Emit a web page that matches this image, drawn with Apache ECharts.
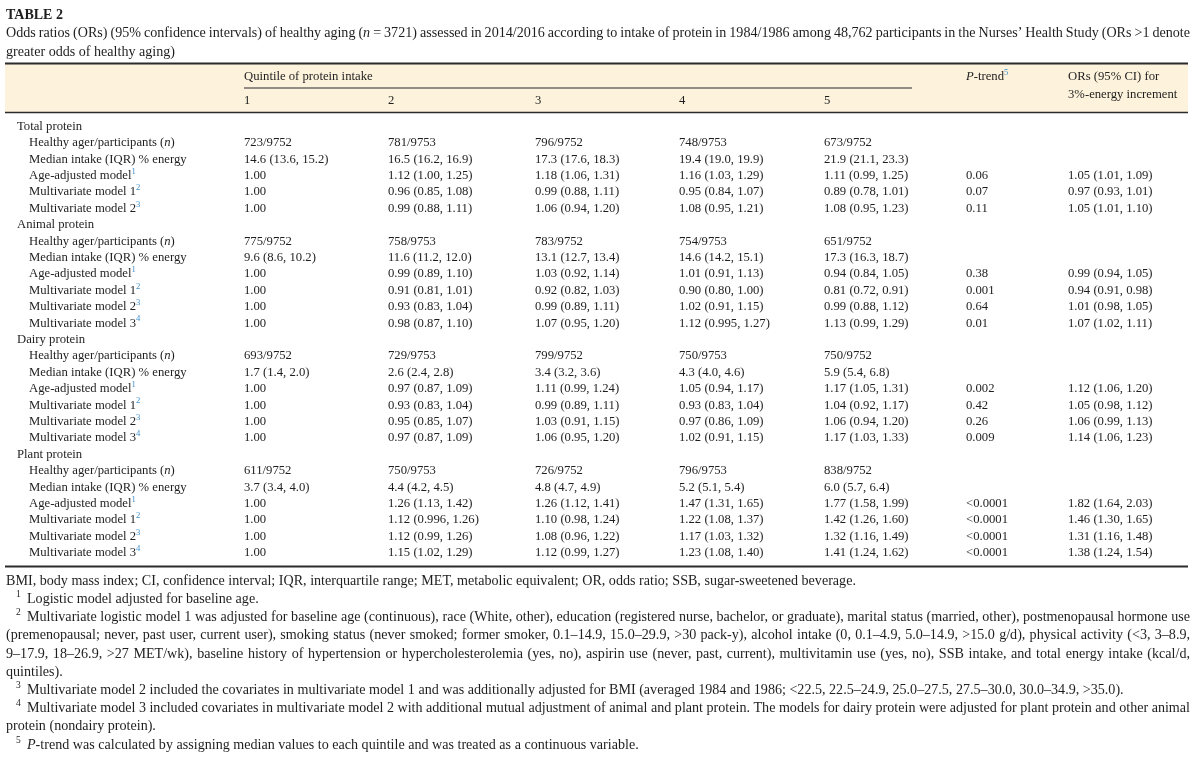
<!DOCTYPE html>
<html><head><meta charset="utf-8">
<script src="https://cdn.jsdelivr.net/npm/echarts@6/dist/echarts.min.js"></script>
<style>html,body{margin:0;padding:0;background:#fff}#c{width:1200px;height:762px}</style>
</head><body><div id="c"></div>
<script>
// ---------- data ----------
const title = 'TABLE 2';
const captionLines = [
  'Odds ratios (ORs) (95% confidence intervals) of healthy aging (_n_ = 3721) assessed in 2014/2016 according to intake of protein in 1984/1986 among 48,762 participants in the Nurses’ Health Study (ORs >1 denote',
  'greater odds of healthy aging)'
];
const groups = ['Total protein', 'Animal protein', 'Dairy protein', 'Plant protein'];
const rowLabels = ['Healthy ager/participants (_n_)', 'Median intake (IQR) % energy', 'Age-adjusted model^1^',
  'Multivariate model 1^2^', 'Multivariate model 2^3^', 'Multivariate model 3^4^'];
const quintileHeader = 'Quintile of protein intake';
const quintiles = ['1', '2', '3', '4', '5'];
const trendHeader = '_P_-trend^5^';
const incrementHeader = ['ORs (95% CI) for', '3%-energy increment'];

const totalProtein = [
  ['723/9752', '781/9753', '796/9752', '748/9753', '673/9752', '', ''],
  ['14.6 (13.6, 15.2)', '16.5 (16.2, 16.9)', '17.3 (17.6, 18.3)', '19.4 (19.0, 19.9)', '21.9 (21.1, 23.3)', '', ''],
  ['1.00', '1.12 (1.00, 1.25)', '1.18 (1.06, 1.31)', '1.16 (1.03, 1.29)', '1.11 (0.99, 1.25)', '0.06', '1.05 (1.01, 1.09)'],
  ['1.00', '0.96 (0.85, 1.08)', '0.99 (0.88, 1.11)', '0.95 (0.84, 1.07)', '0.89 (0.78, 1.01)', '0.07', '0.97 (0.93, 1.01)'],
  ['1.00', '0.99 (0.88, 1.11)', '1.06 (0.94, 1.20)', '1.08 (0.95, 1.21)', '1.08 (0.95, 1.23)', '0.11', '1.05 (1.01, 1.10)']
];
const animalProtein = [
  ['775/9752', '758/9753', '783/9752', '754/9753', '651/9752', '', ''],
  ['9.6 (8.6, 10.2)', '11.6 (11.2, 12.0)', '13.1 (12.7, 13.4)', '14.6 (14.2, 15.1)', '17.3 (16.3, 18.7)', '', ''],
  ['1.00', '0.99 (0.89, 1.10)', '1.03 (0.92, 1.14)', '1.01 (0.91, 1.13)', '0.94 (0.84, 1.05)', '0.38', '0.99 (0.94, 1.05)'],
  ['1.00', '0.91 (0.81, 1.01)', '0.92 (0.82, 1.03)', '0.90 (0.80, 1.00)', '0.81 (0.72, 0.91)', '0.001', '0.94 (0.91, 0.98)'],
  ['1.00', '0.93 (0.83, 1.04)', '0.99 (0.89, 1.11)', '1.02 (0.91, 1.15)', '0.99 (0.88, 1.12)', '0.64', '1.01 (0.98, 1.05)'],
  ['1.00', '0.98 (0.87, 1.10)', '1.07 (0.95, 1.20)', '1.12 (0.995, 1.27)', '1.13 (0.99, 1.29)', '0.01', '1.07 (1.02, 1.11)']
];
const dairyProtein = [
  ['693/9752', '729/9753', '799/9752', '750/9753', '750/9752', '', ''],
  ['1.7 (1.4, 2.0)', '2.6 (2.4, 2.8)', '3.4 (3.2, 3.6)', '4.3 (4.0, 4.6)', '5.9 (5.4, 6.8)', '', ''],
  ['1.00', '0.97 (0.87, 1.09)', '1.11 (0.99, 1.24)', '1.05 (0.94, 1.17)', '1.17 (1.05, 1.31)', '0.002', '1.12 (1.06, 1.20)'],
  ['1.00', '0.93 (0.83, 1.04)', '0.99 (0.89, 1.11)', '0.93 (0.83, 1.04)', '1.04 (0.92, 1.17)', '0.42', '1.05 (0.98, 1.12)'],
  ['1.00', '0.95 (0.85, 1.07)', '1.03 (0.91, 1.15)', '0.97 (0.86, 1.09)', '1.06 (0.94, 1.20)', '0.26', '1.06 (0.99, 1.13)'],
  ['1.00', '0.97 (0.87, 1.09)', '1.06 (0.95, 1.20)', '1.02 (0.91, 1.15)', '1.17 (1.03, 1.33)', '0.009', '1.14 (1.06, 1.23)']
];
const plantProtein = [
  ['611/9752', '750/9753', '726/9752', '796/9753', '838/9752', '', ''],
  ['3.7 (3.4, 4.0)', '4.4 (4.2, 4.5)', '4.8 (4.7, 4.9)', '5.2 (5.1, 5.4)', '6.0 (5.7, 6.4)', '', ''],
  ['1.00', '1.26 (1.13, 1.42)', '1.26 (1.12, 1.41)', '1.47 (1.31, 1.65)', '1.77 (1.58, 1.99)', '<0.0001', '1.82 (1.64, 2.03)'],
  ['1.00', '1.12 (0.996, 1.26)', '1.10 (0.98, 1.24)', '1.22 (1.08, 1.37)', '1.42 (1.26, 1.60)', '<0.0001', '1.46 (1.30, 1.65)'],
  ['1.00', '1.12 (0.99, 1.26)', '1.08 (0.96, 1.22)', '1.17 (1.03, 1.32)', '1.32 (1.16, 1.49)', '<0.0001', '1.31 (1.16, 1.48)'],
  ['1.00', '1.15 (1.02, 1.29)', '1.12 (0.99, 1.27)', '1.23 (1.08, 1.40)', '1.41 (1.24, 1.62)', '<0.0001', '1.38 (1.24, 1.54)']
];
const groupData = [totalProtein, animalProtein, dairyProtein, plantProtein];

const footLines = [
  { t: 'BMI, body mass index; CI, confidence interval; IQR, interquartile range; MET, metabolic equivalent; OR, odds ratio; SSB, sugar-sweetened beverage.' },
  { sup: '1', t: 'Logistic model adjusted for baseline age.' },
  { sup: '2', j: true, t: 'Multivariate logistic model 1 was adjusted for baseline age (continuous), race (White, other), education (registered nurse, bachelor, or graduate), marital status (married, other), postmenopausal hormone use' },
  { j: true, t: '(premenopausal; never, past user, current user), smoking status (never smoked; former smoker, 0.1–14.9, 15.0–29.9, >30 pack-y), alcohol intake (0, 0.1–4.9, 5.0–14.9, >15.0 g/d), physical activity (<3, 3–8.9,' },
  { j: true, t: '9–17.9, 18–26.9, >27 MET/wk), baseline history of hypertension or hypercholesterolemia (yes, no), aspirin use (never, past, current), multivitamin use (yes, no), SSB intake, and total energy intake (kcal/d,' },
  { t: 'quintiles).' },
  { sup: '3', t: 'Multivariate model 2 included the covariates in multivariate model 1 and was additionally adjusted for BMI (averaged 1984 and 1986; <22.5, 22.5–24.9, 25.0–27.5, 27.5–30.0, 30.0–34.9, >35.0).' },
  { sup: '4', j: true, t: 'Multivariate model 3 included covariates in multivariate model 2 with additional mutual adjustment of animal and plant protein. The models for dairy protein were adjusted for plant protein and other animal' },
  { t: 'protein (nondairy protein).' },
  { sup: '5', t: '_P_-trend was calculated by assigning median values to each quintile and was treated as a continuous variable.' }
];

// ---------- layout / style ----------
const FONT = '"Liberation Serif","Times New Roman",serif';
const INK = '#1e1e1e';
const SUP_BLUE = '#3f8fcc';
const BODY_SIZE = 12.7;
const NOTE_SIZE = 14.1;
const GROUP_X = 17;
const COL_X = [29, 244, 388, 535, 679, 824, 966, 1068];
const TABLE_L = 5, TABLE_R = 1188, RIGHT_EDGE = 1190;

const ctx2d = document.createElement('canvas').getContext('2d');
function measure(t, size, italic, bold) {
  ctx2d.font = (italic ? 'italic ' : 'normal ') + (bold ? 'bold ' : 'normal ') + size + 'px ' + FONT;
  return ctx2d.measureText(t).width;
}
function parse(str) {
  const out = []; const re = /_([^_]+)_|\^([^^]+)\^/g; let last = 0, m;
  while ((m = re.exec(str))) {
    if (m.index > last) out.push({ t: str.slice(last, m.index), k: 'n' });
    if (m[1] !== undefined) out.push({ t: m[1], k: 'i' }); else out.push({ t: m[2], k: 's' });
    last = re.lastIndex;
  }
  if (last < str.length) out.push({ t: str.slice(last), k: 'n' });
  return out;
}
function textEl(t, x, y, sz, it, color, bold) {
  return { type: 'text', x: x, y: y, silent: true,
    style: { text: t, fontSize: sz, fontFamily: FONT, fontStyle: it ? 'italic' : 'normal',
      fontWeight: bold ? 'bold' : 'normal', fill: color,
      align: 'left', verticalAlign: 'middle', textAlign: 'left', textVerticalAlign: 'middle' } };
}
function segSize(s, size) { return s.k === 's' ? size * 0.68 : size; }
function segEls(segs, x, y, size, opt) {
  let cx = x; const els = [];
  segs.forEach(s => {
    const sz = segSize(s, size), it = s.k === 'i';
    const w = measure(s.t, sz, it, opt.bold);
    els.push(textEl(s.t, cx, s.k === 's' ? y - size * 0.32 : y, sz, it, s.k === 's' ? opt.supColor : opt.color, opt.bold));
    cx += w + (s.k === 's' ? 0.5 : 0);
  });
  return { els: els, width: cx - x };
}
function wordWidth(p, size, bold) {
  return p.reduce((a, s) => a + measure(s.t, segSize(s, size), s.k === 'i', bold), 0);
}
function justify(str, x0, x1, y, size, opt) {
  const words = str.split(' ').map(parse);
  const widths = words.map(p => wordWidth(p, size, opt.bold));
  const total = widths.reduce((a, b) => a + b, 0);
  const gap = (x1 - x0 - total) / (words.length - 1);
  let cx = x0; const els = [];
  words.forEach((p, i) => { els.push(...segEls(p, cx, y, size, opt).els); cx += widths[i] + gap; });
  return els;
}

// ---------- rows & cells ----------
const rows = [];
groups.forEach((g, gi) => {
  rows.push({ kind: 'group', label: g });
  groupData[gi].forEach((vals, ri) => rows.push({ kind: 'item', label: rowLabels[ri], values: vals }));
});
const cells = [];
rows.forEach((row, r) => {
  cells.push({ c: 0, r: r, text: row.label, kind: row.kind });
  if (row.values) row.values.forEach((v, j) => { if (v) cells.push({ c: j + 1, r: r, text: v, kind: 'val' }); });
});

// ---------- static graphics (rules, header, caption, notes) ----------
const g = [];
const bodyOpt = { color: INK, supColor: SUP_BLUE };
const noteOpt = { color: INK, supColor: INK };
g.push({ type: 'rect', silent: true, shape: { x: TABLE_L, y: 64, width: TABLE_R - TABLE_L, height: 48 }, style: { fill: '#fdf3dc' } });
g.push({ type: 'line', silent: true, shape: { x1: TABLE_L, y1: 63.5, x2: TABLE_R, y2: 63.5 }, style: { stroke: '#2b2b2b', lineWidth: 2.2 } });
g.push({ type: 'line', silent: true, shape: { x1: TABLE_L, y1: 112.5, x2: TABLE_R, y2: 112.5 }, style: { stroke: '#2b2b2b', lineWidth: 1.6 } });
g.push({ type: 'line', silent: true, shape: { x1: COL_X[1], y1: 88, x2: 912, y2: 88 }, style: { stroke: '#2b2b2b', lineWidth: 1.1 } });
g.push({ type: 'line', silent: true, shape: { x1: TABLE_L, y1: 566.5, x2: TABLE_R, y2: 566.5 }, style: { stroke: '#2b2b2b', lineWidth: 2 } });

g.push(...segEls(parse(quintileHeader), COL_X[1], 77, BODY_SIZE, bodyOpt).els);
quintiles.forEach((q, i) => g.push(...segEls(parse(q), COL_X[i + 1], 101, BODY_SIZE, bodyOpt).els));
g.push(...segEls(parse(trendHeader), COL_X[6], 77, BODY_SIZE, bodyOpt).els);
incrementHeader.forEach((t, i) => g.push(...segEls(parse(t), COL_X[7], 77 + i * 18, BODY_SIZE, bodyOpt).els));

g.push(...segEls(parse(title), 6, 15, 14, { color: INK, supColor: INK, bold: true }).els);
g.push(...justify(captionLines[0], 6, RIGHT_EDGE, 33.5, NOTE_SIZE, noteOpt));
g.push(...segEls(parse(captionLines[1]), 6, 52, NOTE_SIZE, noteOpt).els);

footLines.forEach((f, i) => {
  const y = 581 + i * 18.2;
  let x0 = 6;
  if (f.sup) {
    g.push(textEl(f.sup, 16, y - 4.5, 9.5, false, INK, false));
    x0 = 27;
  }
  if (f.j) g.push(...justify(f.t, x0, RIGHT_EDGE, y, NOTE_SIZE, noteOpt));
  else g.push(...segEls(parse(f.t), x0, y, NOTE_SIZE, noteOpt).els);
});

// ---------- chart ----------
const chart = echarts.init(document.getElementById('c'), null, { renderer: 'canvas' });
chart.setOption({
  animation: false,
  backgroundColor: '#ffffff',
  grid: { left: 0, right: 0, top: 118.2, height: 442.8, containLabel: false },
  xAxis: { type: 'value', min: 0, max: 1200, show: false },
  yAxis: { type: 'category', inverse: true, show: false, boundaryGap: true, data: rows.map((_, i) => 'r' + i) },
  graphic: { elements: g },
  series: [{
    type: 'custom',
    coordinateSystem: 'cartesian2d',
    encode: { x: 0, y: 1 },
    data: cells.map(d => [d.c, d.r]),
    renderItem: function (params, api) {
      const cell = cells[params.dataIndex];
      const x = cell.kind === 'group' ? GROUP_X : COL_X[api.value(0)];
      const pt = api.coord([x, api.value(1)]);
      return { type: 'group', children: segEls(parse(cell.text), pt[0], pt[1], BODY_SIZE, bodyOpt).els };
    }
  }]
});
</script>
</body></html>
